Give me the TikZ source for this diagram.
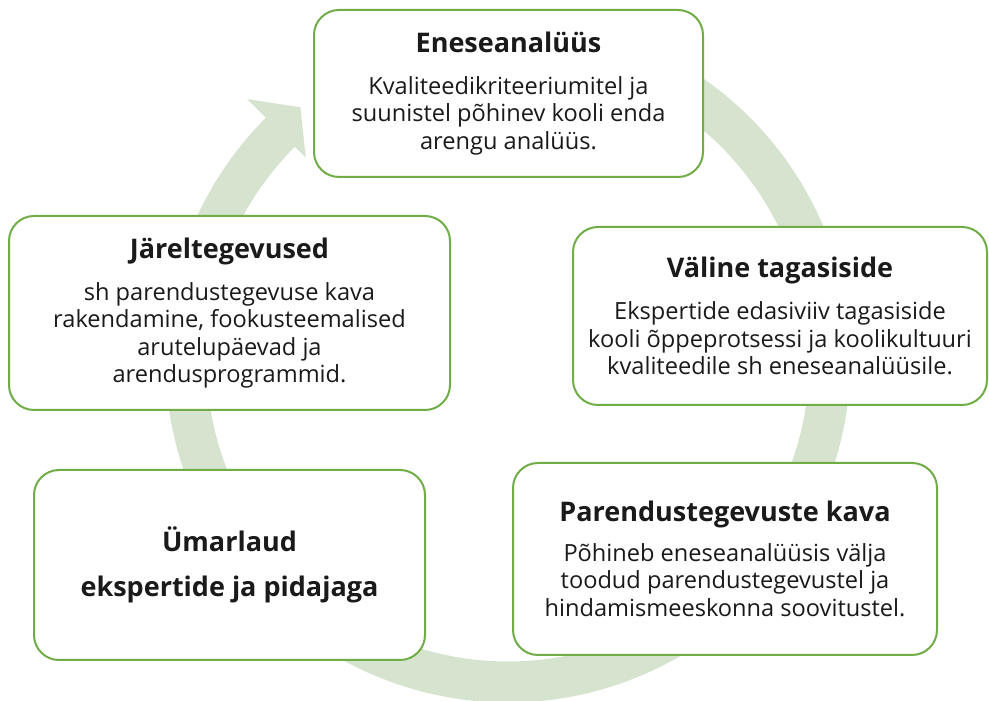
\documentclass[tikz,border=0pt]{standalone}
\usepackage{fontspec}
\setmainfont{Open Sans}
\usepackage{tikz}

\definecolor{boxgreen}{RGB}{112,173,71}
\definecolor{bandgreen}{RGB}{214,227,206}
\definecolor{ink}{RGB}{26,26,26}

\newcommand{\stagetitle}[1]{{\fontsize{27}{30}\selectfont\bfseries #1}}

\tikzset{
  stage/.style={draw=boxgreen, line width=2pt, rounded corners=25pt, fill=white,
    align=center, text=ink, inner sep=0pt,
    font=\fontsize{23.6}{27.5}\selectfont},
  stagebold/.style={stage, font=\fontsize{27}{45}\selectfont\bfseries}
}

\begin{document}
\begin{tikzpicture}[x=1pt,y=1pt]
\useasboundingbox (0,0) rectangle (989,701);

\begin{scope}[shift={(508,341)}]
  \fill[bandgreen] (75:342.5) arc[start angle=75, end angle=-225, radius=342.5]
    -- (-225:369) -- (-230.6:327) -- (-225:286) -- (-225:301.5)
    arc[start angle=-225, end angle=75, radius=301.5] -- cycle;
\end{scope}

\node[stage, minimum width=389, minimum height=167] (enese) at (508.5,607.5)
  {\stagetitle{Eneseanalüüs}\\[14.5pt]
   Kvaliteedikriteeriumitel ja\\
   suunistel põhinev kooli enda\\
   arengu analüüs.};
\node[stage, minimum width=414, minimum height=178] (valine) at (780,385)
  {\stagetitle{Väline tagasiside}\\[14.5pt]
   Ekspertide edasiviiv tagasiside\\
   kooli õppeprotsessi ja koolikultuuri\\
   kvaliteedile sh eneseanalüüsile.};
\node[stage, minimum width=424, minimum height=192] (parendus) at (725,142)
  {\stagetitle{Parendustegevuste kava}\\[12pt]
   Põhineb eneseanalüüsis välja\\
   toodud parendustegevustel ja\\
   hindamismeeskonna soovitustel.};
\node[stagebold, minimum width=391, minimum height=190] (umarlaud) at (229.5,136)
  {Ümarlaud\\ ekspertide ja pidajaga};
\node[stage, minimum width=441, minimum height=194] (jarel) at (229.5,388)
  {\stagetitle{Järeltegevused}\\[14.5pt]
   sh parendustegevuse kava\\
   rakendamine, fookusteemalised\\
   arutelupäevad ja\\
   arendusprogrammid.};
\end{tikzpicture}
\end{document}
